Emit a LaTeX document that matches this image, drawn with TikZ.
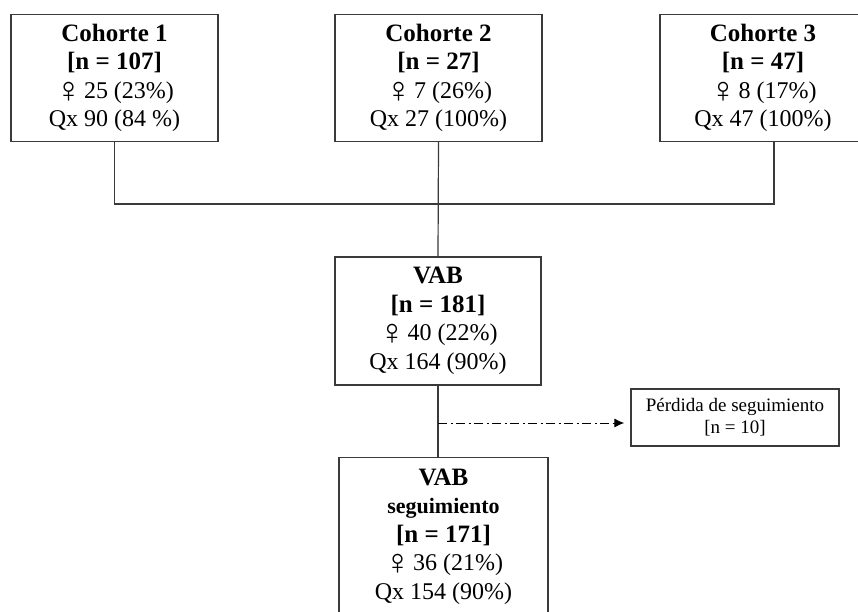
\documentclass[tikz,border=0pt]{standalone}
\usepackage{fontspec}
\setmainfont{Liberation Serif}
\usetikzlibrary{arrows.meta,calc}
\definecolor{boxcol}{HTML}{3A3A3A}
\newcommand\femsym{\raisebox{-4pt}{\fontsize{36}{28}\selectfont ♀}\hspace{2pt}}
\newcommand\ttl[1]{{\fontsize{25}{28}\selectfont\bfseries #1}}
\tikzset{
  box/.style={draw=boxcol, line width=1.3pt, align=center, inner sep=0pt,
    font=\fontsize{24}{28.5}\selectfont},
  lossbox/.style={draw=boxcol, line width=1.3pt, align=center, inner sep=0pt,
    font=\fontsize{19}{22}\selectfont, minimum width=208pt, minimum height=57pt},
  link/.style={draw=boxcol, line width=1.2pt},
  lossarrow/.style={draw=black, line width=1pt,
    dash pattern=on 9pt off 3.5pt on 2pt off 3.5pt,
    -{Latex[length=10pt,width=9pt]}, shorten >=6pt}
}
\begin{document}
\begin{tikzpicture}[x=1pt,y=-1pt]
\clip (0,0) rectangle (858,612);
\fill[white] (0,0) rectangle (858,612);
\node[box, minimum width=207pt, minimum height=127pt] (c1) at (114.5,78)
  {\ttl{Cohorte 1}\\\ttl{[n = 107]}\\\femsym 25 (23\%)\\Qx 90 (84 \%)};
\node[box, minimum width=207pt, minimum height=127pt] (c2) at (438.5,78)
  {\ttl{Cohorte 2}\\\ttl{[n = 27]}\\\femsym 7 (26\%)\\Qx 27 (100\%)};
\node[box, minimum width=206pt, minimum height=127pt] (c3) at (763,78)
  {\ttl{Cohorte 3}\\\ttl{[n = 47]}\\\femsym 8 (17\%)\\Qx 47 (100\%)};
\node[box, minimum width=206pt, minimum height=128pt] (vab) at (438,321)
  {\ttl{VAB}\\\ttl{[n = 181]}\\\femsym 40 (22\%)\\Qx 164 (90\%)};
\node[box, minimum width=209pt, minimum height=158pt, anchor=north] (vab2) at (443.5,457)
  {\ttl{VAB}\\{\fontsize{22}{28}\selectfont\bfseries seguimiento}\\\ttl{[n = 171]}\\\femsym 36 (21\%)\\Qx 154 (90\%)};
\node[lossbox] (loss) at (735,417.5) {Pérdida de seguimiento\\{}[n = 10]};
\coordinate (j) at (438,204);
\coordinate (c3s) at ([xshift=11pt]c3.south);
\coordinate (split) at (438,423);
\draw[link] (c1.south) |- (j);
\draw[link] (c3s) |- (j);
\draw[link] (c2.south) -- (vab.north);
\draw[link] (vab.south) -- (vab.south |- vab2.north);
\draw[lossarrow] (split) -- (split -| loss.west);
\end{tikzpicture}
\end{document}
